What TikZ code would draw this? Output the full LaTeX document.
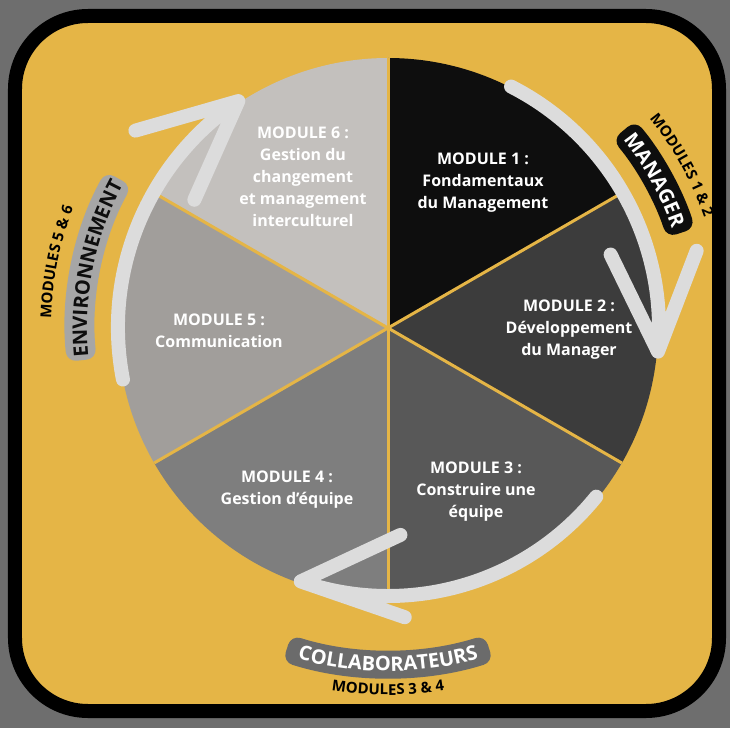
\documentclass[tikz,border=0pt]{standalone}
\usepackage{fontspec}
\setmainfont{Open Sans}
\usetikzlibrary{decorations.text}
\definecolor{bggray}{RGB}{110,110,110}
\definecolor{gold}{RGB}{229,181,70}
\definecolor{arrowgray}{RGB}{220,220,220}
\definecolor{mone}{RGB}{14,14,14}
\definecolor{mtwo}{RGB}{60,60,60}
\definecolor{mthree}{RGB}{88,88,88}
\definecolor{mfour}{RGB}{126,126,126}
\definecolor{mfive}{RGB}{161,158,155}
\definecolor{msix}{RGB}{195,192,189}
\definecolor{tabdark}{RGB}{107,107,107}
\definecolor{tablight}{RGB}{166,166,166}
\tikzset{
  modtext/.style={text=white, align=center, font=\fontsize{16}{22}\selectfont\bfseries},
  cyclearrow/.style={arrowgray, line width=14, line cap=round, line join=round},
  sep/.style={gold, line width=3},
}
\begin{document}
\begin{tikzpicture}[x=1pt, y=1pt]
            \useasboundingbox (-388,-400) rectangle (342,328);
            \fill [bggray] (-388,-400) rectangle (342,328);
            \draw [line width=14, rounded corners=73, fill=gold] (-373,-383) rectangle (331,312);
            \coordinate (c) at (0,0);
            % the six modules
            \fill [mone] (c) -- (90:270) arc [start angle=90, end angle=30, radius=270] -- cycle;
            \fill [mtwo] (c) -- (30:270) arc [start angle=30, end angle=-30, radius=270] -- cycle;
            \fill [mthree] (c) -- (-30:270) arc [start angle=-30, end angle=-90, radius=270] -- cycle;
            \fill [mfour] (c) -- (-90:270) arc [start angle=-90, end angle=-150, radius=270] -- cycle;
            \fill [mfive] (c) -- (-150:270) arc [start angle=-150, end angle=-210, radius=270] -- cycle;
            \fill [msix] (c) -- (150:270) arc [start angle=150, end angle=90, radius=270] -- cycle;
            \draw [sep] (c) -- (90:270);
            \draw [sep] (c) -- (30:270);
            \draw [sep] (c) -- (-30:270);
            \draw [sep] (c) -- (-90:270);
            \draw [sep] (c) -- (-150:270);
            \draw [sep] (c) -- (150:270);
            \node [modtext] (mod1) at (95,145) {MODULE 1 :\\Fondamentaux\\du Management};
            \node [modtext] (mod2) at (181,-2) {MODULE 2 :\\Développement\\du Manager};
            \node [modtext] (mod3) at (88,-164) {MODULE 3 :\\Construire une\\équipe};
            \node [modtext] (mod4) at (-101,-162) {MODULE 4 :\\Gestion d’équipe};
            \node [modtext] (mod5) at (-169,-3) {MODULE 5 :\\Communication};
            \node [modtext] (mod6) at (-85,151) {MODULE 6 :\\Gestion du\\changement\\et management\\interculturel};
            % arrows round the circle
            \draw [cyclearrow] (63:271) arc [start angle=63, end angle=-5, radius=271] coordinate (tipman)
                -- ++(116:108) (tipman) -- ++(69:108);
            \draw [cyclearrow] (-39:268) arc [start angle=-39, end angle=-109, radius=268] coordinate (tipcol)
                -- ++(25:110) (tipcol) -- ++(-19:110);
            \draw [cyclearrow] (191:270) arc [start angle=191, end angle=124, radius=273] coordinate (tipenv)
                -- ++(196:107) (tipenv) -- ++(246:108);
            % tabs
            \fill [mone, rounded corners=10] (18:293) arc [start angle=18, end angle=40, radius=293]
                -- (40:323) arc [start angle=40, end angle=18, radius=323] -- cycle;
            \fill [tabdark, rounded corners=10] (-107.5:322) arc [start angle=-107.5, end angle=-72.5, radius=322]
                -- (-72.5:350) arc [start angle=-72.5, end angle=-107.5, radius=350] -- cycle;
            \fill [tablight, rounded corners=10] (151:293) arc [start angle=151, end angle=186, radius=293]
                -- (186:323) arc [start angle=186, end angle=151, radius=323] -- cycle;
            \path [decorate, decoration={text along path, text align=center,
                text={|\fontsize{20}{24}\selectfont\bfseries\color{white}|MANAGER}}]
                (50:301) arc [start angle=50, end angle=8, radius=301];
            \path [decorate, decoration={text along path, text align=center,
                text={|\fontsize{15}{18}\selectfont\bfseries\color{black}|MODULES 1 {\&} 2}}]
                (50:335) arc [start angle=50, end angle=8, radius=335];
            \path [decorate, decoration={text along path, text align=center,
                text={|\fontsize{20}{24}\selectfont\bfseries\color{white}|COLLABORATEURS}}]
                (-125:343) arc [start angle=-125, end angle=-55, radius=343];
            \path [decorate, decoration={text along path, text align=center,
                text={|\fontsize{15}{18}\selectfont\bfseries\color{black}|MODULES 3 {\&} 4}}]
                (-115:367) arc [start angle=-115, end angle=-65, radius=367];
            \path [decorate, decoration={text along path, text align=center,
                text={|\fontsize{20}{24}\selectfont\bfseries\color{mone}|ENVIRONNEMENT}}]
                (201:301) arc [start angle=201, end angle=136, radius=301];
            \path [decorate, decoration={text along path, text align=center,
                text={|\fontsize{15}{18}\selectfont\bfseries\color{black}|MODULES 5 {\&} 6}}]
                (200:337) arc [start angle=200, end angle=137.5, radius=337];
\end{tikzpicture}
\end{document}
